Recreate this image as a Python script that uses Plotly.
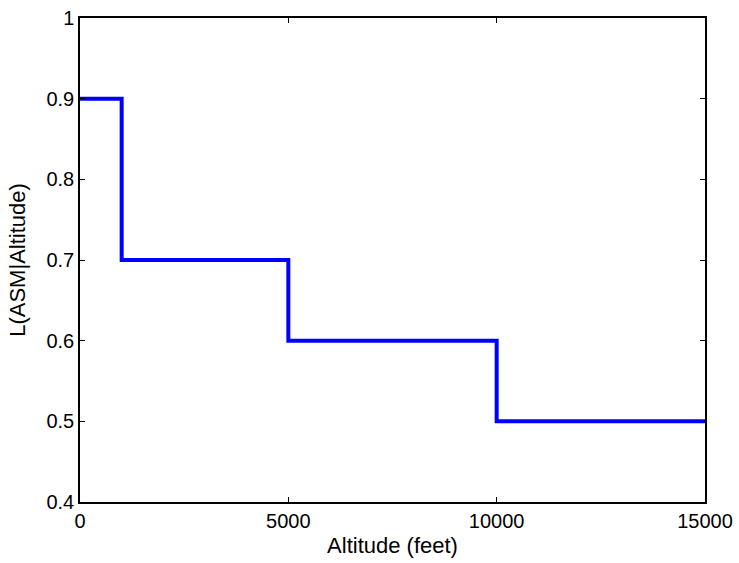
import plotly.graph_objects as go

altitude = [0, 1000, 5000, 10000, 15000]
likelihood = [0.9, 0.7, 0.6, 0.5, 0.5]
x_ticks = [0, 5000, 10000, 15000]
y_ticks = [0.4, 0.5, 0.6, 0.7, 0.8, 0.9, 1.0]
y_tick_text = ["0.4", "0.5", "0.6", "0.7", "0.8", "0.9", "1"]

fam = "Liberation Sans, Arial, sans-serif"
tick_font = dict(family=fam, size=20, color="#000000")
title_font = dict(family=fam, size=22, color="#000000")

fig = go.Figure()
fig.add_trace(go.Scatter(
    x=altitude, y=likelihood, mode="lines", line_shape="hv",
    line=dict(color="#0000FF", width=4), showlegend=False,
))

fig.update_layout(
    width=739, height=563,
    margin=dict(l=80, r=34, t=18, b=61),
    paper_bgcolor="white", plot_bgcolor="white",
    font=tick_font,
)
fig.update_xaxes(
    range=[0, 15000], tickvals=x_ticks, ticktext=[str(v) for v in x_ticks],
    showline=True, linecolor="black", linewidth=1.5, mirror="ticks",
    ticks="inside", ticklen=5, tickcolor="black", tickwidth=1,
    showgrid=False, zeroline=False, automargin=False,
    ticklabeloverflow="allow",
    tickfont=tick_font,
    title=dict(text="Altitude (feet)", font=title_font, standoff=7),
)
fig.update_yaxes(
    range=[0.4, 1.0], tickvals=y_ticks, ticktext=y_tick_text,
    showline=True, linecolor="black", linewidth=1.5, mirror="ticks",
    ticks="inside", ticklen=5, tickcolor="black", tickwidth=1,
    showgrid=False, zeroline=False, automargin=False,
    ticklabeloverflow="allow",
    tickfont=tick_font,
    title=dict(text="L(ASM|Altitude)", font=title_font, standoff=15),
)

# remove the browser's default 8px body margin so the figure fills the window
fig.write_html(
    "out.html",
    config={"displayModeBar": False},
    post_script="document.body.style.margin='0';",
)
